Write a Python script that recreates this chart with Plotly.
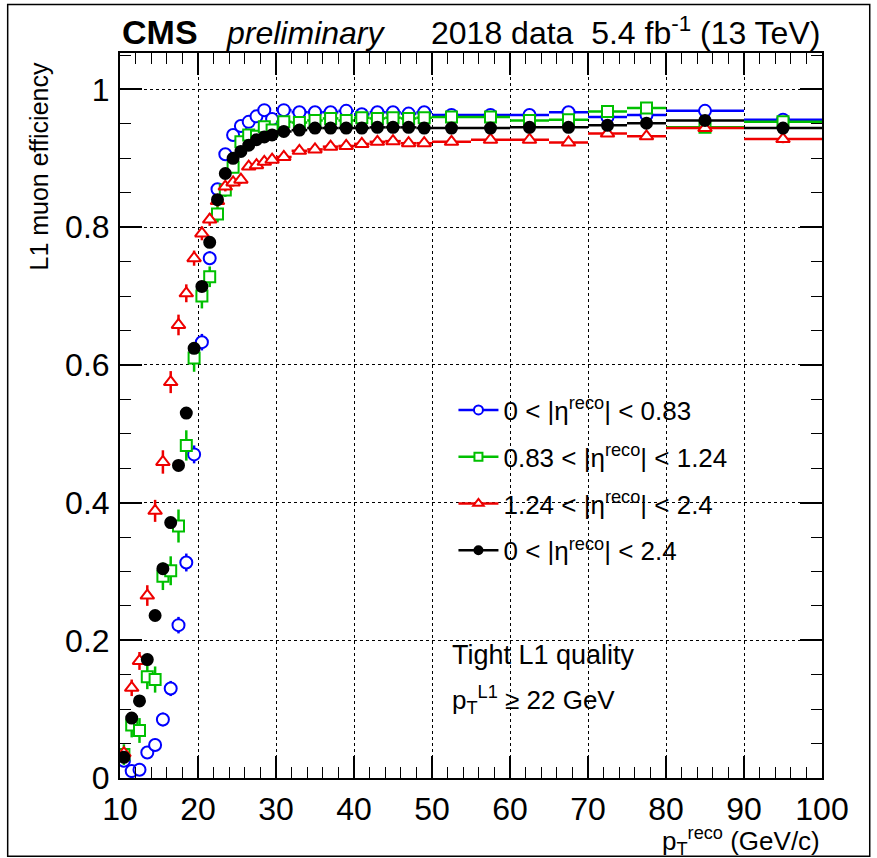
import plotly.graph_objects as go

# ---------------- data ----------------
bin_edges = [10, 11, 12, 13, 14, 15, 16, 17, 18, 19, 20, 21, 22, 23, 24, 25, 26, 27, 28, 29, 30,
             32, 34, 36, 38, 40, 42, 44, 46, 48, 50,
             55, 60, 65, 70, 75, 80, 90, 100]

eff_b = [0.025, 0.010, 0.012, 0.037, 0.048, 0.085, 0.130, 0.222, 0.313, 0.470,
         0.633, 0.755, 0.855, 0.906, 0.934, 0.947, 0.953, 0.961, 0.970, 0.957,
         0.970, 0.967, 0.967, 0.967, 0.969, 0.964, 0.967, 0.967, 0.965, 0.967,
         0.963, 0.963, 0.963, 0.967, 0.960, 0.963, 0.969, 0.956]
err_b = [0.008, 0.005, 0.005, 0.008, 0.009, 0.010, 0.011, 0.012, 0.013, 0.013,
         0.012, 0.010, 0.008, 0.006, 0.005, 0.005, 0.004, 0.004, 0.004, 0.004,
         0.003, 0.003, 0.003, 0.003, 0.003, 0.003, 0.003, 0.003, 0.003, 0.003,
         0.003, 0.003, 0.003, 0.003, 0.004, 0.004, 0.004, 0.005]

eff_o = [0.034, 0.077, 0.069, 0.147, 0.143, 0.293, 0.301, 0.366, 0.483, 0.610,
         0.700, 0.728, 0.819, 0.854, 0.887, 0.924, 0.934, 0.932, 0.946, 0.941,
         0.953, 0.952, 0.955, 0.958, 0.955, 0.959, 0.958, 0.959, 0.958, 0.959,
         0.960, 0.960, 0.955, 0.956, 0.968, 0.973, 0.945, 0.953]
err_o = [0.015, 0.018, 0.018, 0.018, 0.019, 0.020, 0.021, 0.024, 0.022, 0.020,
         0.018, 0.015, 0.012, 0.010, 0.008, 0.007, 0.006, 0.006, 0.005, 0.005,
         0.004, 0.004, 0.004, 0.004, 0.004, 0.004, 0.004, 0.004, 0.004, 0.004,
         0.004, 0.004, 0.004, 0.005, 0.005, 0.005, 0.005, 0.006]

eff_e = [0.036, 0.131, 0.170, 0.265, 0.388, 0.459, 0.575, 0.658, 0.704, 0.755,
         0.791, 0.811, 0.838, 0.859, 0.865, 0.869, 0.888, 0.890, 0.895, 0.898,
         0.902, 0.911, 0.913, 0.917, 0.918, 0.921, 0.924, 0.925, 0.922, 0.922,
         0.924, 0.927, 0.927, 0.923, 0.936, 0.932, 0.944, 0.928]
err_e = [0.008, 0.012, 0.013, 0.015, 0.016, 0.017, 0.016, 0.015, 0.013, 0.011,
         0.010, 0.009, 0.008, 0.007, 0.006, 0.006, 0.005, 0.005, 0.005, 0.005,
         0.004, 0.004, 0.004, 0.004, 0.004, 0.004, 0.004, 0.004, 0.004, 0.004,
         0.004, 0.004, 0.004, 0.004, 0.005, 0.005, 0.005, 0.006]

eff_all = [0.030, 0.087, 0.112, 0.172, 0.236, 0.304, 0.371, 0.454, 0.530, 0.624,
           0.714, 0.778, 0.840, 0.878, 0.900, 0.910, 0.919, 0.927, 0.931, 0.934,
           0.939, 0.941, 0.944, 0.944, 0.944, 0.944, 0.945, 0.945, 0.945, 0.944,
           0.944, 0.944, 0.945, 0.945, 0.948, 0.951, 0.955, 0.944]
err_all = [0.005, 0.006, 0.006, 0.007, 0.007, 0.008, 0.008, 0.008, 0.008, 0.007,
           0.006, 0.005, 0.004, 0.004, 0.003, 0.003, 0.003, 0.003, 0.002, 0.002,
           0.002, 0.002, 0.002, 0.002, 0.002, 0.002, 0.002, 0.002, 0.002, 0.002,
           0.002, 0.002, 0.002, 0.002, 0.002, 0.003, 0.003, 0.003]

series_names = ["0 &lt; |η<sup>reco</sup>| &lt; 0.83",
                "0.83 &lt; |η<sup>reco</sup>| &lt; 1.24",
                "1.24 &lt; |η<sup>reco</sup>| &lt; 2.4",
                "0 &lt; |η<sup>reco</sup>| &lt; 2.4"]

# ---------------- derived bin geometry ----------------
x_c = [(a + b) / 2 for a, b in zip(bin_edges[:-1], bin_edges[1:])]
x_hw = [(b - a) / 2 for a, b in zip(bin_edges[:-1], bin_edges[1:])]

FONT = "Liberation Sans, Arial, Helvetica, sans-serif"
styles = [
    dict(color="#0000ff", symbol="circle", fill="white", size=12),
    dict(color="#00c000", symbol="square", fill="white", size=11),
    dict(color="#ee0000", symbol="triangle-up", fill="white", size=12),
    dict(color="#000000", symbol="circle", fill="#000000", size=11),
]
values = [eff_b, eff_o, eff_e, eff_all]
errors = [err_b, err_o, err_e, err_all]

fig = go.Figure()
for name, st, ys, es in zip(series_names, styles, values, errors):
    fig.add_trace(go.Scatter(
        x=x_c, y=ys, mode="markers", showlegend=False,
        marker=dict(symbol=st["symbol"], size=st["size"], color=st["fill"],
                    line=dict(color=st["color"], width=2)),
        error_x=dict(type="data", array=x_hw, color=st["color"], thickness=2.5, width=0),
        error_y=dict(type="data", array=es, color=st["color"], thickness=2.5, width=0),
    ))

# legend entries (marker with horizontal bar, like the reference)
for i, (name, st) in enumerate(zip(series_names, styles)):
    fig.add_trace(go.Scatter(
        x=[None], y=[None], mode="lines+markers", name=name, legendgroup=f"g{i}",
        marker=dict(symbol=st["symbol"], size=st["size"] - 3, color=st["fill"],
                    line=dict(color=st["color"], width=2)),
        line=dict(color=st["color"], width=2.5),
    ))

axis_common = dict(
    showline=True, linecolor="black", linewidth=2, mirror="allticks",
    ticks="inside", ticklen=22, tickwidth=1.5, tickcolor="black",
    showgrid=True, gridcolor="black", griddash="dot", gridwidth=1,
    zeroline=False,
    tickfont=dict(family=FONT, size=32, color="black"),
)

fig.update_xaxes(range=[10, 100], dtick=10, tick0=10,
                 minor=dict(dtick=2, ticks="inside", ticklen=11, tickcolor="black", tickwidth=1.2, showgrid=False),
                 ticklabelstandoff=2, **axis_common)
fig.update_yaxes(range=[0, 1.053],
                 tickvals=[0, 0.2, 0.4, 0.6, 0.8, 1.0], ticktext=["0", "0.2", "0.4", "0.6", "0.8", "1"],
                 minor=dict(dtick=0.05, tick0=0, ticks="inside", ticklen=11, tickcolor="black", tickwidth=1.2, showgrid=False),
                 ticklabelstandoff=2, **axis_common)

fig.update_layout(
    width=877, height=858,
    margin=dict(l=120, r=55, t=53, b=80),
    paper_bgcolor="white", plot_bgcolor="white",
    font=dict(family=FONT, color="black"),
    showlegend=True,
    legend=dict(x=0.475, y=0.54, xanchor="left", yanchor="top",
                bgcolor="rgba(0,0,0,0)", borderwidth=0,
                font=dict(family=FONT, size=26, color="black"),
                traceorder="grouped", tracegroupgap=10, itemwidth=40),
)

annots = [
    dict(text="<b>CMS</b>", x=0.0, y=1.0, xanchor="left", yanchor="bottom",
         font=dict(size=34)),
    dict(text="<i>preliminary</i>", x=0.148, y=1.0, xanchor="left", yanchor="bottom",
         font=dict(size=32)),
    dict(text="2018 data  5.4 fb<sup>-1</sup> (13 TeV)", x=1.0, y=1.0, xanchor="right", yanchor="bottom",
         font=dict(size=32)),
    dict(text="L1 muon efficiency", x=-0.115, y=0.99, xanchor="center", yanchor="top",
         textangle=-90, font=dict(size=25)),
    dict(text="p<sub>T</sub><sup>reco</sup> (GeV/c)", x=1.0, y=-0.059, xanchor="right", yanchor="top",
         font=dict(size=26)),
    dict(text="Tight L1 quality", x=0.47, y=0.17, xanchor="left", yanchor="middle",
         font=dict(size=27)),
    dict(text="p<sub>T</sub><sup>L1</sup> ≥ 22 GeV", x=0.47, y=0.107, xanchor="left", yanchor="middle",
         font=dict(size=26)),
]
for a in annots:
    a.update(xref="paper", yref="paper", showarrow=False)
    a["font"].update(family=FONT, color="black")
    fig.add_annotation(**a)

# outer frame around the whole picture
fig.add_shape(type="rect", xref="paper", yref="paper",
              x0=-0.16, x1=1.068, y0=-0.108, y1=1.067,
              line=dict(color="black", width=1.5), fillcolor="rgba(0,0,0,0)", layer="above")

fig.write_html("out.html", config={"displayModeBar": False},
               post_script="document.body.style.margin='0px';")
